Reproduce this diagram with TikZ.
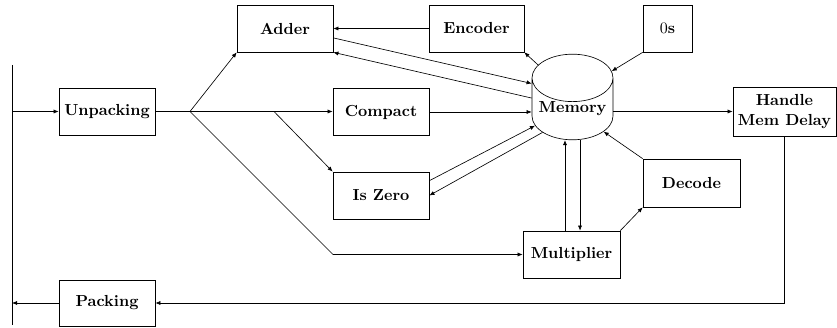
\documentclass[tikz,border=0pt]{standalone}
\usetikzlibrary{shapes.geometric,arrows.meta,calc}
\begin{document}
\begin{tikzpicture}[x=0.625pt,y=-0.625pt,
  box/.style={draw,rectangle,minimum width=60pt,minimum height=29.4pt,inner sep=2pt,font=\bfseries,align=center},
  arr/.style={-{Latex[length=3.2pt,width=2.6pt]}}]
\useasboundingbox (0,0) rectangle (837,328);
\node[box] (unp) at (107,111.5) {Unpacking};
\node[box] (adder) at (285,28.5) {Adder};
\node[box,minimum width=59.4pt] (enc) at (476.5,28.5) {Encoder};
\node[box,minimum width=30.6pt] (zeros) at (667.5,28.5) {$0$s};
\node[box] (compact) at (381,112) {Compact};
\node[box] (iszero) at (381,195.5) {Is Zero};
\node[draw,cylinder,shape border rotate=90,aspect=0.7,minimum width=50.6pt,minimum height=39pt,inner sep=0pt,font=\bfseries,anchor=shape center] (mem) at (572.5,97) {Memory};
\node[box,minimum width=64.4pt,minimum height=30.6pt,inner sep=1pt] (hmd) at (784.5,111.5) {Handle\\Mem Delay};
\node[box,minimum width=60.6pt,minimum height=30pt] (decode) at (691.5,183) {Decode};
\node[box,minimum width=60.6pt] (mult) at (571.5,254.5) {Multiplier};
\node[box,minimum height=28.8pt] (pack) at (107,303) {Packing};
\coordinate (ltop) at (12,65);
\coordinate (lbot) at (12,325);
\coordinate (lin) at (12,111.5);
\coordinate (lout) at (12,303);
\coordinate (b1) at (190,111.5);
\coordinate (b2) at (274,111.5);
\coordinate (b3) at (333,254.5);
\draw (ltop) -- (lbot);
\draw[arr] (lin) -- (unp.west);
\draw (unp.east) -- (b1);
\draw[arr] (b1) -- (adder.south west);
\draw[arr] (b1) -- (b1 -| compact.west);
\draw[arr] (b2) -- (iszero.north west);
\draw[arr] (b1) -- (b3) -- (mult.west);
\draw[arr] (enc.west) -- (adder.east);
\draw[arr] (mem.128) -- (enc.south east);
\draw[arr] (adder.-11) -- (mem.148);
\draw[arr] (mem.165) -- (adder.south east);
\draw[arr] (zeros.south west) -- (mem.44);
\draw[arr] (compact.east) -- (compact.east -| mem.west);
\draw[arr] (hmd.west -| mem.east) -- (hmd.west);
\draw[arr] (hmd.south) -- (hmd.south |- pack.east) -- (pack.east);
\draw[arr] (pack.west) -- (lout);
\draw[arr] (iszero.17) -- (mem.204);
\draw[arr] (mem.218) -- (iszero.east);
\draw[arr] ([xshift=-4.7pt]mult.north -| mem.south) -- ([xshift=-4.7pt]mem.south);
\draw[arr] ([xshift=4.7pt]mem.south) -- ([xshift=4.7pt]mult.north -| mem.south);
\draw[arr] (mult.north east) -- (decode.south west);
\draw[arr] (decode.north west) -- (mem.324);
\end{tikzpicture}
\end{document}
